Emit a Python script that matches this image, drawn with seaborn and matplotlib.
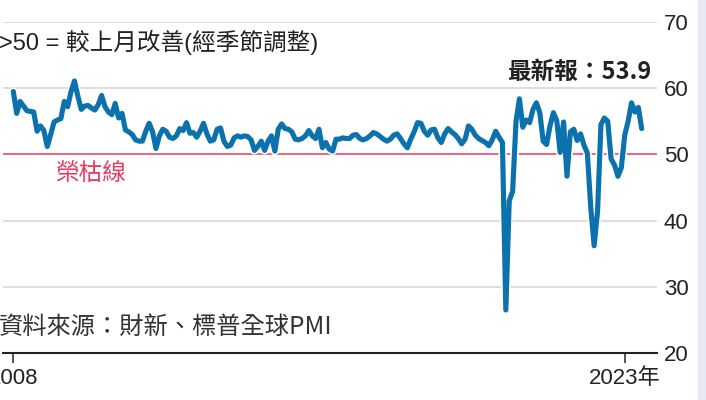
import numpy as np
import pandas as pd
import matplotlib
matplotlib.use("Agg")
import matplotlib.pyplot as plt
import matplotlib.patheffects as pe
from matplotlib.patches import Rectangle
import seaborn as sns

# 財新中國服務業PMI，2008年1月 ~ 2023年6月
pmi_2008 = [59.5, 56.2, 58.0, 57.3, 56.6, 56.5, 56.4, 53.5, 54.3, 53.6, 51.2, 53.0]
pmi_2009 = [54.9, 55.2, 55.4, 58.0, 57.2, 59.5, 61.1, 58.8, 56.8, 57.3, 57.4, 57.0]
pmi_2010 = [56.7, 57.5, 58.9, 57.2, 56.4, 56.0, 57.7, 55.5, 56.2, 53.7, 53.4, 53.0]
pmi_2011 = [52.2, 52.0, 52.0, 53.5, 54.7, 53.4, 50.9, 52.8, 53.8, 53.5, 52.6, 52.4]
pmi_2012 = [52.8, 53.9, 53.6, 54.8, 53.2, 53.3, 52.6, 53.5, 54.7, 53.1, 52.0, 52.2]
pmi_2013 = [53.8, 54.0, 52.0, 51.2, 51.4, 52.5, 52.8, 52.6, 52.8, 52.7, 52.2, 50.6]
pmi_2014 = [51.2, 52.0, 50.6, 52.0, 52.8, 50.5, 53.8, 54.6, 53.9, 53.8, 53.4, 52.3]
pmi_2015 = [52.2, 52.4, 52.8, 53.6, 52.8, 52.4, 53.8, 51.0, 51.8, 50.8, 50.5, 52.3]
pmi_2016 = [52.3, 52.5, 52.4, 52.4, 52.9, 53.0, 52.4, 52.2, 52.4, 52.8, 53.3, 53.1]
pmi_2017 = [52.7, 52.3, 52.0, 52.3, 52.9, 53.1, 52.4, 51.6, 51.0, 52.3, 53.4, 54.8]
pmi_2018 = [54.7, 53.5, 52.9, 53.7, 53.8, 52.5, 51.8, 53.1, 53.9, 53.4, 53.0, 52.4]
pmi_2019 = [51.6, 52.3, 54.3, 53.8, 52.9, 52.4, 52.1, 51.8, 51.3, 52.2, 53.5, 52.6]
pmi_2020 = [51.8, 26.5, 43.0, 44.4, 55.0, 58.4, 54.1, 55.2, 54.8, 56.8, 57.8, 56.3]
pmi_2021 = [52.0, 51.5, 54.3, 56.3, 55.1, 50.3, 54.9, 46.7, 53.4, 53.8, 52.1, 53.1]
pmi_2022 = [51.4, 50.2, 42.0, 36.2, 41.4, 54.5, 55.5, 55.0, 49.3, 48.4, 46.7, 48.0]
pmi_2023 = [52.9, 55.0, 57.8, 56.4, 57.1, 53.9]

x_ticks = [2008, 2023]
x_tick_labels = ["2008", "2023年"]
y_ticks = [20, 30, 40, 50, 60, 70]

values = (pmi_2008 + pmi_2009 + pmi_2010 + pmi_2011 + pmi_2012 + pmi_2013 + pmi_2014
          + pmi_2015 + pmi_2016 + pmi_2017 + pmi_2018 + pmi_2019 + pmi_2020 + pmi_2021
          + pmi_2022 + pmi_2023)
dates = pd.date_range("2008-01-01", periods=len(values), freq="MS")
df = pd.DataFrame({"t": dates.year + (dates.month - 1) / 12, "pmi": values})

BLUE = "#0b72ad"
RED = "#e63c64"
DARK = "#222222"

sns.set_style("white")
plt.rcParams["font.family"] = ["Noto Sans CJK TC", "DejaVu Sans"]
num_font = ["Liberation Sans Narrow", "Liberation Sans", "Noto Sans CJK TC"]

fig = plt.figure(figsize=(7.06, 4.0), dpi=100)
ax = fig.add_axes([3 / 706, 47 / 400, 654 / 706, 331 / 400])

# 背景格線
for v in [30, 40, 60, 70]:
    ax.axhline(v, color="#d4d4d4", lw=1.1, zorder=1)
ax.axhline(50, color=RED, lw=1.1, zorder=1)

sns.lineplot(data=df, x="t", y="pmi", ax=ax, color=BLUE, lw=3.7, zorder=3,
             path_effects=[pe.Stroke(linewidth=6.0, foreground="white"), pe.Normal()])

ax.set_xlim(2007.747, 2023.792)
ax.set_ylim(20, 70)
ax.set_xlabel("")
ax.set_ylabel("")

for s in ["top", "left", "right"]:
    ax.spines[s].set_visible(False)
ax.spines["bottom"].set_color(DARK)
ax.spines["bottom"].set_linewidth(1.5)

ax.set_xticks(x_ticks)
ax.set_xticklabels(x_tick_labels)
ax.tick_params(axis="x", bottom=True, direction="out", length=7, width=1.1, color=DARK,
               pad=4, labelsize=16, labelcolor=DARK)
ax.yaxis.tick_right()
ax.set_yticks(y_ticks)
ax.tick_params(axis="y", length=0, pad=5, labelsize=16, labelcolor=DARK)
for lab in ax.get_xticklabels() + ax.get_yticklabels():
    lab.set_family(num_font)

def px(x, y):
    return x / 706, 1 - y / 400

fig.text(*px(-1, 42), ">50 = 較上月改善(經季節調整)", fontsize=17, color=DARK,
         va="center", ha="left", family=["Liberation Sans", "Noto Sans CJK TC"])
fig.text(*px(651, 72), "最新報：53.9", fontsize=17, color=DARK, fontweight="bold",
         va="center", ha="right")
fig.text(*px(55, 173), "榮枯線", fontsize=17, color=RED, va="center", ha="left")
fig.text(*px(-1, 327), "資料來源：財新、標普全球PMI", fontsize=17.5, color="#333333",
         va="center", ha="left", fontweight="light")

# 右側淡色邊條
fig.patches.append(Rectangle((698 / 706, 0), 8 / 706, 1, transform=fig.transFigure,
                             color="#e4e9f3", zorder=0))

fig.savefig("out.png", dpi=100)
